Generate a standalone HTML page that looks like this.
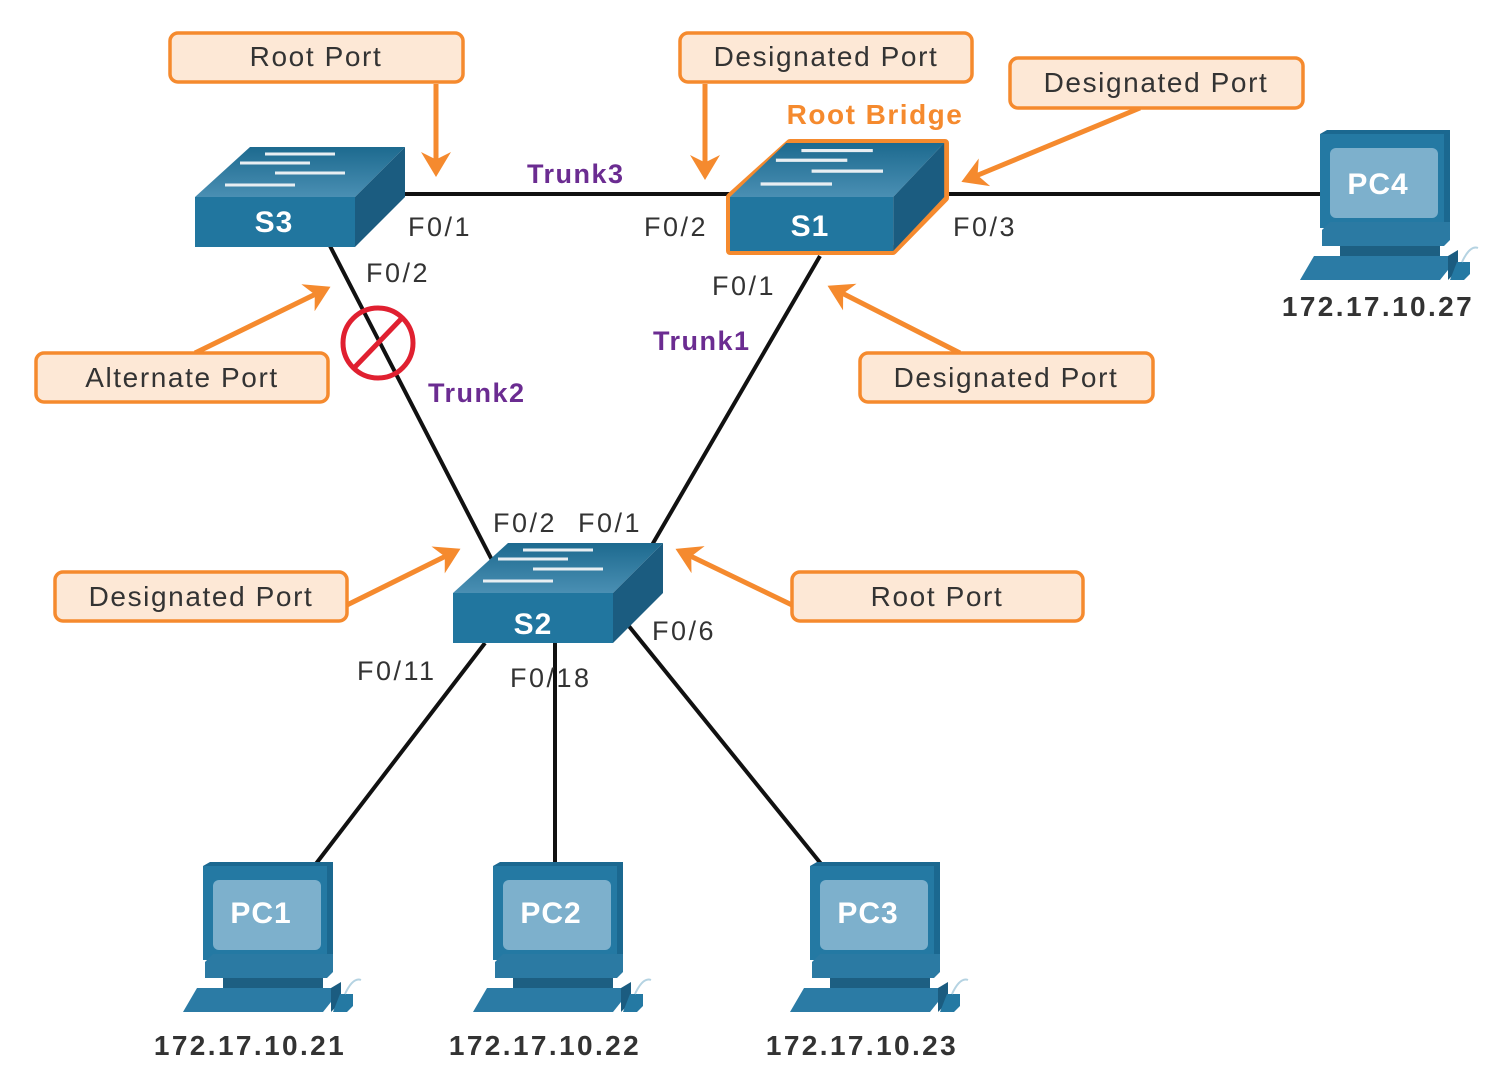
<!DOCTYPE html>
<html><head><meta charset="utf-8"><style>
html,body{margin:0;padding:0;background:#fff}
svg{display:block}
text{font-family:"Liberation Sans",sans-serif}
.lbl{font-size:28px;fill:#333;letter-spacing:1.6px}
.pl{font-size:27px;fill:#333;letter-spacing:2.5px}
.bx{fill:#fde8d6;stroke:#f58a2e;stroke-width:3.5}
.ar{stroke:#f58a2e;stroke-width:5;fill:none}
.tr{font-size:27px;font-weight:bold;fill:#6b2c91;letter-spacing:1.5px}
.ip{font-size:28px;font-weight:bold;fill:#333;letter-spacing:2.4px}
.sw{font-size:30px;font-weight:bold;fill:#fff;letter-spacing:1px}
</style></head><body>
<svg width="1505" height="1072" viewBox="0 0 1505 1072" xmlns="http://www.w3.org/2000/svg">
<defs>
<marker id="ah" markerWidth="6" markerHeight="6" refX="4" refY="3" orient="auto" markerUnits="strokeWidth"><path d="M0,0 L5,3 L0,6 L1.5,3 Z" fill="#f58a2e"/></marker>
<linearGradient id="tg" x1="0" y1="0" x2="0" y2="1"><stop offset="0" stop-color="#1d6a8f"/><stop offset="1" stop-color="#4a8fb3"/></linearGradient>
<g id="sw">
<path d="M0,50 L55,0 L210,0 L160,50 Z" fill="url(#tg)"/>
<path d="M160,50 L210,0 L210,50 L160,100 Z" fill="#1b5c80"/>
<rect x="0" y="50" width="160" height="50" fill="#21769f"/>
<g stroke="#e8eef2" stroke-width="3"><line x1="70" y1="7" x2="140" y2="7"/><line x1="45" y1="16" x2="115" y2="16"/><line x1="80" y1="26" x2="150" y2="26"/><line x1="30" y1="38" x2="100" y2="38"/></g>
</g>
<g id="pc">
<path d="M20,4 L27,0 L150,0 L150,92 L144,98 L20,98 Z" fill="#1b6890"/>
<rect x="20" y="4" width="124" height="94" fill="#2479a3"/>
<rect x="30" y="18" width="108" height="70" rx="6" fill="#7db0cc"/>
<path d="M22,100 L30,92 L150,92 L150,110 L144,116 L22,116 Z" fill="#2b7aa3"/>
<rect x="40" y="116" width="100" height="10" fill="#1d5f82"/>
<path d="M0,150 L14,126 L148,126 L148,140 L140,150 Z" fill="#2b7ba5"/>
<path d="M148,126 L158,120 L158,140 L148,150 Z" fill="#1b5c80"/>
<path d="M150,150 L157,132 L170,132 L170,144 L164,150 Z" fill="#2479a3"/>
<path d="M162,132 Q170,115 178,118" stroke="#b5d3e2" stroke-width="2" fill="none"/>
</g>
</defs>

<g stroke="#111" stroke-width="4">
<line x1="405" y1="194" x2="730" y2="194"/>
<line x1="945" y1="194" x2="1325" y2="194"/>
<line x1="330" y1="246" x2="493" y2="562"/>
<line x1="820" y1="256" x2="652" y2="545"/>
<line x1="485" y1="643" x2="315" y2="865"/>
<line x1="555" y1="643" x2="555" y2="865"/>
<line x1="628" y1="625" x2="822" y2="865"/>
</g>

<use href="#sw" transform="translate(195,147)"/>
<text class="sw" x="274" y="232" text-anchor="middle">S3</text>
<path d="M730,197 L790,143 L945,143 L945,198 L893,251 L730,251 Z" fill="none" stroke="#f58a2e" stroke-width="8" stroke-linejoin="round"/>
<use href="#sw" transform="translate(730,143) scale(1.02,1.08)"/>
<text class="sw" x="810" y="236" text-anchor="middle">S1</text>
<use href="#sw" transform="translate(453,543)"/>
<text class="sw" x="533" y="634" text-anchor="middle">S2</text>

<use href="#pc" transform="translate(183,862)"/>
<text class="sw" x="261" y="923" text-anchor="middle">PC1</text>
<use href="#pc" transform="translate(473,862)"/>
<text class="sw" x="551" y="923" text-anchor="middle">PC2</text>
<use href="#pc" transform="translate(790,862)"/>
<text class="sw" x="868" y="923" text-anchor="middle">PC3</text>
<use href="#pc" transform="translate(1300,130)"/>
<text class="sw" x="1378" y="194" text-anchor="middle">PC4</text>

<text class="ip" x="250" y="1055" text-anchor="middle">172.17.10.21</text>
<text class="ip" x="545" y="1055" text-anchor="middle">172.17.10.22</text>
<text class="ip" x="862" y="1055" text-anchor="middle">172.17.10.23</text>
<text class="ip" x="1378" y="316" text-anchor="middle">172.17.10.27</text>

<g class="pl">
<text x="408" y="236">F0/1</text>
<text x="366" y="282">F0/2</text>
<text x="644" y="236">F0/2</text>
<text x="953" y="236">F0/3</text>
<text x="712" y="295">F0/1</text>
<text x="493" y="532">F0/2</text>
<text x="578" y="532">F0/1</text>
<text x="652" y="640">F0/6</text>
<text x="357" y="680">F0/11</text>
<text x="510" y="687">F0/18</text>
</g>
<text class="tr" x="527" y="183">Trunk3</text>
<text class="tr" x="653" y="350">Trunk1</text>
<text class="tr" x="428" y="402">Trunk2</text>
<text x="875" y="124" text-anchor="middle" style="font-size:28px;font-weight:bold;fill:#f58a2e;letter-spacing:1.5px">Root Bridge</text>

<circle cx="378" cy="343" r="35" fill="none" stroke="#e02030" stroke-width="5"/>
<line x1="354" y1="368" x2="402" y2="318" stroke="#e02030" stroke-width="5"/>

<g class="ar" marker-end="url(#ah)">
<line x1="436" y1="84" x2="436" y2="172"/>
<line x1="705" y1="84" x2="705" y2="175"/>
<line x1="1140" y1="108" x2="966" y2="180"/>
<line x1="195" y1="353" x2="326" y2="289"/>
<line x1="960" y1="353" x2="832" y2="288"/>
<line x1="347" y1="605" x2="456" y2="551"/>
<line x1="792" y1="605" x2="680" y2="551"/>
</g>

<rect class="bx" x="170" y="33" width="293" height="49" rx="8"/>
<text class="lbl" x="316" y="66" text-anchor="middle">Root Port</text>
<rect class="bx" x="680" y="33" width="292" height="49" rx="8"/>
<text class="lbl" x="826" y="66" text-anchor="middle">Designated Port</text>
<rect class="bx" x="1010" y="58" width="293" height="50" rx="8"/>
<text class="lbl" x="1156" y="92" text-anchor="middle">Designated Port</text>
<rect class="bx" x="36" y="353" width="292" height="49" rx="8"/>
<text class="lbl" x="182" y="387" text-anchor="middle">Alternate Port</text>
<rect class="bx" x="860" y="353" width="293" height="49" rx="8"/>
<text class="lbl" x="1006" y="387" text-anchor="middle">Designated Port</text>
<rect class="bx" x="55" y="572" width="292" height="49" rx="8"/>
<text class="lbl" x="201" y="606" text-anchor="middle">Designated Port</text>
<rect class="bx" x="792" y="572" width="291" height="49" rx="8"/>
<text class="lbl" x="937" y="606" text-anchor="middle">Root Port</text>
</svg>
</body></html>
